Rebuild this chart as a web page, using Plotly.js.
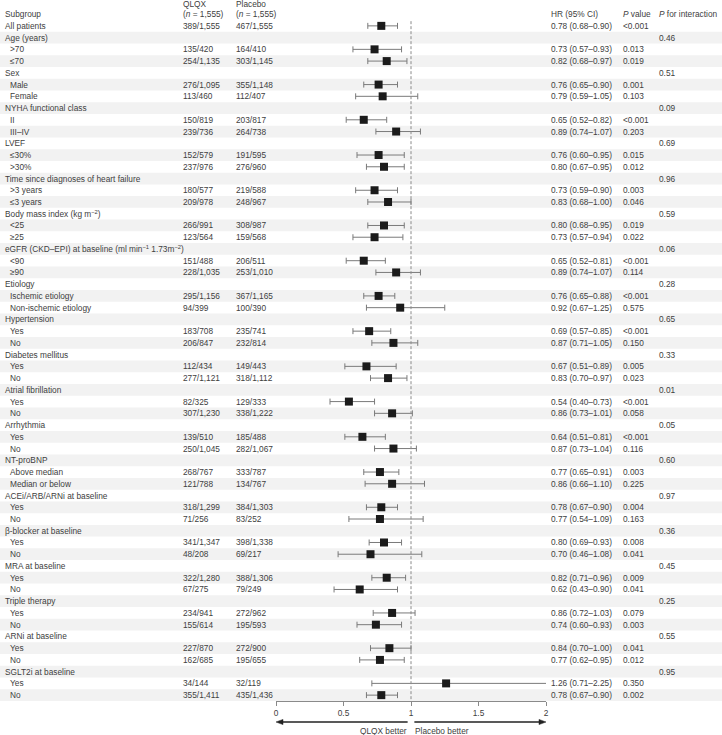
<!DOCTYPE html>
<html>
<head>
<meta charset="utf-8">
<script src="https://cdn.plot.ly/plotly-3.0.1.min.js"></script>
<style>html,body{margin:0;padding:0;background:#fff;}#chart{width:722px;height:735px;}</style>
</head>
<body>
<div id="chart"></div>
<script>
// ---- data ----
const subgroupLabels = [
  "All patients",
  "Age (years)", ">70", "≤70",
  "Sex", "Male", "Female",
  "NYHA functional class", "II", "III–IV",
  "LVEF", "≤30%", ">30%",
  "Time since diagnoses of heart failure", ">3 years", "≤3 years",
  "Body mass index (kg m<sup>−2</sup>)", "<25", "≥25",
  "eGFR (CKD–EPI) at baseline (ml min<sup>−1</sup> 1.73m<sup>−2</sup>)", "<90", "≥90",
  "Etiology", "Ischemic etiology", "Non-ischemic etiology",
  "Hypertension", "Yes", "No",
  "Diabetes mellitus", "Yes", "No",
  "Atrial fibrillation", "Yes", "No",
  "Arrhythmia", "Yes", "No",
  "NT-proBNP", "Above median", "Median or below",
  "ACEi/ARB/ARNi at baseline", "Yes", "No",
  "β-blocker at baseline", "Yes", "No",
  "MRA at baseline", "Yes", "No",
  "Triple therapy", "Yes", "No",
  "ARNi at baseline", "Yes", "No",
  "SGLT2i at baseline", "Yes", "No"
];
const rowKind = ["overall"].concat(...Array.from({length: 19}, () => ["group", "item", "item"]));

const qlqxEvents = ["389/1,555",
  null, "135/420", "254/1,135",
  null, "276/1,095", "113/460",
  null, "150/819", "239/736",
  null, "152/579", "237/976",
  null, "180/577", "209/978",
  null, "266/991", "123/564",
  null, "151/488", "228/1,035",
  null, "295/1,156", "94/399",
  null, "183/708", "206/847",
  null, "112/434", "277/1,121",
  null, "82/325", "307/1,230",
  null, "139/510", "250/1,045",
  null, "268/767", "121/788",
  null, "318/1,299", "71/256",
  null, "341/1,347", "48/208",
  null, "322/1,280", "67/275",
  null, "234/941", "155/614",
  null, "227/870", "162/685",
  null, "34/144", "355/1,411"];
const placeboEvents = ["467/1,555",
  null, "164/410", "303/1,145",
  null, "355/1,148", "112/407",
  null, "203/817", "264/738",
  null, "191/595", "276/960",
  null, "219/588", "248/967",
  null, "308/987", "159/568",
  null, "206/511", "253/1,010",
  null, "367/1,165", "100/390",
  null, "235/741", "232/814",
  null, "149/443", "318/1,112",
  null, "129/333", "338/1,222",
  null, "185/488", "282/1,067",
  null, "333/787", "134/767",
  null, "384/1,303", "83/252",
  null, "398/1,338", "69/217",
  null, "388/1,306", "79/249",
  null, "272/962", "195/593",
  null, "272/900", "195/655",
  null, "32/119", "435/1,436"];
const hr = [0.78,
  null, 0.73, 0.82,
  null, 0.76, 0.79,
  null, 0.65, 0.89,
  null, 0.76, 0.80,
  null, 0.73, 0.83,
  null, 0.80, 0.73,
  null, 0.65, 0.89,
  null, 0.76, 0.92,
  null, 0.69, 0.87,
  null, 0.67, 0.83,
  null, 0.54, 0.86,
  null, 0.64, 0.87,
  null, 0.77, 0.86,
  null, 0.78, 0.77,
  null, 0.80, 0.70,
  null, 0.82, 0.62,
  null, 0.86, 0.74,
  null, 0.84, 0.77,
  null, 1.26, 0.78];
const ciLow = [0.68,
  null, 0.57, 0.68,
  null, 0.65, 0.59,
  null, 0.52, 0.74,
  null, 0.60, 0.67,
  null, 0.59, 0.68,
  null, 0.68, 0.57,
  null, 0.52, 0.74,
  null, 0.65, 0.67,
  null, 0.57, 0.71,
  null, 0.51, 0.70,
  null, 0.40, 0.73,
  null, 0.51, 0.73,
  null, 0.65, 0.66,
  null, 0.67, 0.54,
  null, 0.69, 0.46,
  null, 0.71, 0.43,
  null, 0.72, 0.60,
  null, 0.70, 0.62,
  null, 0.71, 0.67];
const ciHigh = [0.90,
  null, 0.93, 0.97,
  null, 0.90, 1.05,
  null, 0.82, 1.07,
  null, 0.95, 0.95,
  null, 0.90, 1.00,
  null, 0.95, 0.94,
  null, 0.81, 1.07,
  null, 0.88, 1.25,
  null, 0.85, 1.05,
  null, 0.89, 0.97,
  null, 0.73, 1.01,
  null, 0.81, 1.04,
  null, 0.91, 1.10,
  null, 0.90, 1.09,
  null, 0.93, 1.08,
  null, 0.96, 0.90,
  null, 1.03, 0.93,
  null, 1.00, 0.95,
  null, 2.25, 0.90];
const pValues = ["<0.001",
  null, "0.013", "0.019",
  null, "0.001", "0.103",
  null, "<0.001", "0.203",
  null, "0.015", "0.012",
  null, "0.003", "0.046",
  null, "0.019", "0.022",
  null, "<0.001", "0.114",
  null, "<0.001", "0.575",
  null, "<0.001", "0.150",
  null, "0.005", "0.023",
  null, "<0.001", "0.058",
  null, "<0.001", "0.116",
  null, "0.003", "0.225",
  null, "0.004", "0.163",
  null, "0.008", "0.041",
  null, "0.009", "0.041",
  null, "0.079", "0.003",
  null, "0.041", "0.012",
  null, "0.350", "0.002"];
const pInteraction = [null,
  "0.46", null, null,
  "0.51", null, null,
  "0.09", null, null,
  "0.69", null, null,
  "0.96", null, null,
  "0.59", null, null,
  "0.06", null, null,
  "0.28", null, null,
  "0.65", null, null,
  "0.33", null, null,
  "0.01", null, null,
  "0.05", null, null,
  "0.60", null, null,
  "0.97", null, null,
  "0.36", null, null,
  "0.45", null, null,
  "0.25", null, null,
  "0.55", null, null,
  "0.95", null, null];
const xTickVals = [0, 0.5, 1, 1.5, 2];
const xTickText = ["0", "0.5", "1", "1.5", "2"];
const headers = {subgroup: "Subgroup", qlqx: "QLQX", placebo: "Placebo", n: "(<i>n</i> = 1,555)",
  hr: "HR (95% CI)", p: "<i>P</i> value", pint: "<i>P</i> for interaction"};
const directionLabels = ["QLQX better", "Placebo better"];

// ---- layout helpers ----
const W = 722, H = 735;
const TOP = 20, PLOT_H = 681;
const px = v => v / W;
const py = v => 1 + (TOP - v) / PLOT_H;   // pixel row -> paper y
const TXT = "#404040";
const FONT = {family: "'Liberation Sans', Arial, sans-serif", size: 8.3, color: TXT};
const n = subgroupLabels.length;
const rows = subgroupLabels.map((_, i) => i);

const annotations = [];
function addText(text, xpx, y, yref) {
  annotations.push({text: text, x: px(xpx), xref: "paper", y: y, yref: yref || "y",
    xanchor: "left", yanchor: "middle", showarrow: false, font: FONT, borderpad: 0});
}

// headers (paper coordinates, above the plot area)
addText(headers.subgroup, 4, py(14), "paper");
addText(headers.qlqx, 182, py(4), "paper");
addText(headers.n, 182, py(14), "paper");
addText(headers.placebo, 235, py(4), "paper");
addText(headers.n, 235, py(14), "paper");
addText(headers.hr, 550, py(14), "paper");
addText(headers.p, 622, py(14), "paper");
addText(headers.pint, 658, py(14), "paper");

const fmt = v => v.toFixed(2);
rows.forEach(i => {
  addText(subgroupLabels[i], rowKind[i] === "item" ? 9 : 4, i);
  if (qlqxEvents[i]) addText(qlqxEvents[i], 182, i);
  if (placeboEvents[i]) addText(placeboEvents[i], 235, i);
  if (hr[i] != null) addText(fmt(hr[i]) + " (" + fmt(ciLow[i]) + "–" + fmt(ciHigh[i]) + ")", 550, i);
  if (pValues[i]) addText(pValues[i], 622, i);
  if (pInteraction[i]) addText(pInteraction[i], 658, i);
});

// direction labels
const labY = py(731);
annotations.push({text: directionLabels[0], x: 0.975, xref: "x", y: labY, yref: "paper", xanchor: "right", yanchor: "middle", showarrow: false, font: FONT, borderpad: 0});
annotations.push({text: directionLabels[1], x: 1.025, xref: "x", y: labY, yref: "paper", xanchor: "left", yanchor: "middle", showarrow: false, font: FONT, borderpad: 0});

// stripes (odd rows)
const shapes = rows.filter(i => i % 2 === 1).map(i => ({
  type: "rect", xref: "paper", x0: 0, x1: 1, yref: "y", y0: i - 0.5, y1: i + 0.5,
  fillcolor: "#f2f2f2", line: {width: 0}, layer: "below"
}));
// reference line at HR = 1
shapes.push({type: "line", xref: "x", x0: 1, x1: 1, yref: "y", y0: -0.4, y1: n - 0.5,
  line: {color: "#8a8a8a", width: 1, dash: "3px,2px"}, layer: "above"});

// direction arrows (lines + heads)
const aY = py(722);
const headLen = 7 / 135, headHalf = 2.6 / PLOT_H;
const ARROW = "#222";
shapes.push({type: "line", xref: "x", yref: "paper", x0: 0.975, x1: headLen * 0.6, y0: aY, y1: aY,
  line: {color: ARROW, width: 1.3}});
shapes.push({type: "path", xref: "x", yref: "paper",
  path: `M 0 ${aY} L ${headLen} ${aY + headHalf} L ${headLen} ${aY - headHalf} Z`,
  fillcolor: ARROW, line: {color: ARROW, width: 0.5}});
shapes.push({type: "line", xref: "x", yref: "paper", x0: 1.025, x1: 2 - headLen * 0.6, y0: aY, y1: aY,
  line: {color: ARROW, width: 1.3}});
shapes.push({type: "path", xref: "x", yref: "paper",
  path: `M 2 ${aY} L ${2 - headLen} ${aY + headHalf} L ${2 - headLen} ${aY - headHalf} Z`,
  fillcolor: ARROW, line: {color: ARROW, width: 0.5}});

const idx = rows.filter(i => hr[i] != null);
const trace = {
  type: "scatter", mode: "markers",
  x: idx.map(i => hr[i]), y: idx,
  marker: {symbol: "square", size: 8, color: "#1b1b1b"},
  error_x: {type: "data", symmetric: false,
    array: idx.map(i => ciHigh[i] - hr[i]),
    arrayminus: idx.map(i => hr[i] - ciLow[i]),
    color: "#7a7a7a", thickness: 1, width: 3},
  hoverinfo: "skip", cliponaxis: true
};

const layout = {
  width: W, height: H,
  margin: {l: 0, r: 0, t: TOP, b: H - TOP - PLOT_H},
  paper_bgcolor: "#fff", plot_bgcolor: "rgba(0,0,0,0)",
  showlegend: false,
  xaxis: {domain: [px(276), px(546)], range: [0, 2], showgrid: false, zeroline: false,
    showline: true, linecolor: "#8a8a8a", linewidth: 1, ticks: "outside", ticklen: 4,
    tickcolor: "#8a8a8a", tickvals: xTickVals, ticktext: xTickText,
    tickfont: FONT, fixedrange: true},
  yaxis: {range: [n - 0.5, -0.5], visible: false, showgrid: false, zeroline: false, fixedrange: true},
  shapes: shapes,
  annotations: annotations,
  font: FONT
};

Plotly.newPlot("chart", [trace], layout, {staticPlot: true, displayModeBar: false});
</script>
</body>
</html>
